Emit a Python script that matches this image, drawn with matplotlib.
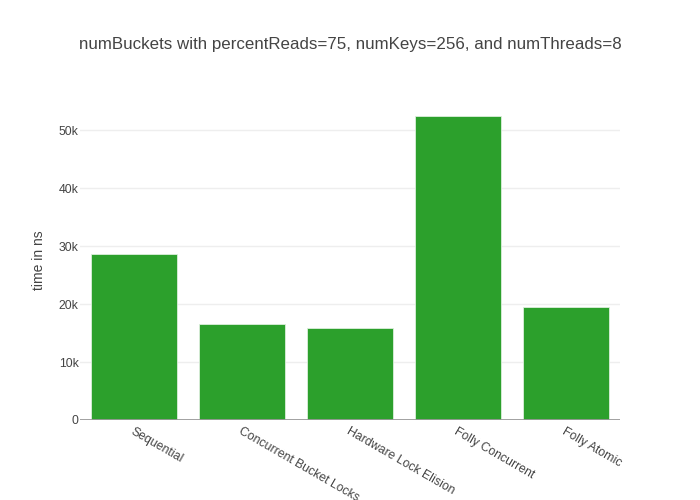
import matplotlib.pyplot as plt
import numpy as np

plt.rcParams['font.family'] = ['Liberation Sans', 'DejaVu Sans']

categories = ['Sequential', 'Concurrent Bucket Locks', 'Hardware Lock Elision',
              'Folly Concurrent', 'Folly Atomic']
times_ns = [28600, 16500, 15800, 52450, 19550]
y_ticks = [0, 10000, 20000, 30000, 40000, 50000]
y_tick_labels = ['0', '10k', '20k', '30k', '40k', '50k']

fig = plt.figure(figsize=(7, 5), dpi=100)
fig.patch.set_facecolor('white')
ax = fig.add_axes([80 / 700, 80 / 500, 540 / 700, 320 / 500])

x = np.arange(len(categories))
ax.bar(x, times_ns, width=0.8, color='#2ca02c', edgecolor='#dcefdc',
       linewidth=0.6, zorder=3)

ax.set_xlim(-0.5, len(categories) - 0.5)
ax.set_ylim(0, 55180)
ax.set_yticks(y_ticks)
ax.set_yticklabels(y_tick_labels)
ax.yaxis.grid(True, color='#eeeeee', lw=1, zorder=0)
ax.axhline(0, color='#999999', lw=2, zorder=4)

for sp in ax.spines.values():
    sp.set_visible(False)

ax.tick_params(axis='y', length=0, pad=1, labelsize=8.8, labelcolor='#444444')
ax.tick_params(axis='x', length=0, pad=4, labelsize=8.8, labelcolor='#444444')
ax.set_xticks(x)
labels = ax.set_xticklabels(categories, rotation=-30, ha='left', va='top',
                            rotation_mode='anchor')

ax.set_ylabel('time in ns', fontsize=10, color='#444444')
ax.yaxis.set_label_coords(-34 / 540, 0.5)

fig.text(350 / 700, 1 - 44 / 500,
         'numBuckets with percentReads=75, numKeys=256, and numThreads=8',
         ha='center', va='center', fontsize=12.2, color='#444444')

fig.savefig('out.png', dpi=100, facecolor='white')
